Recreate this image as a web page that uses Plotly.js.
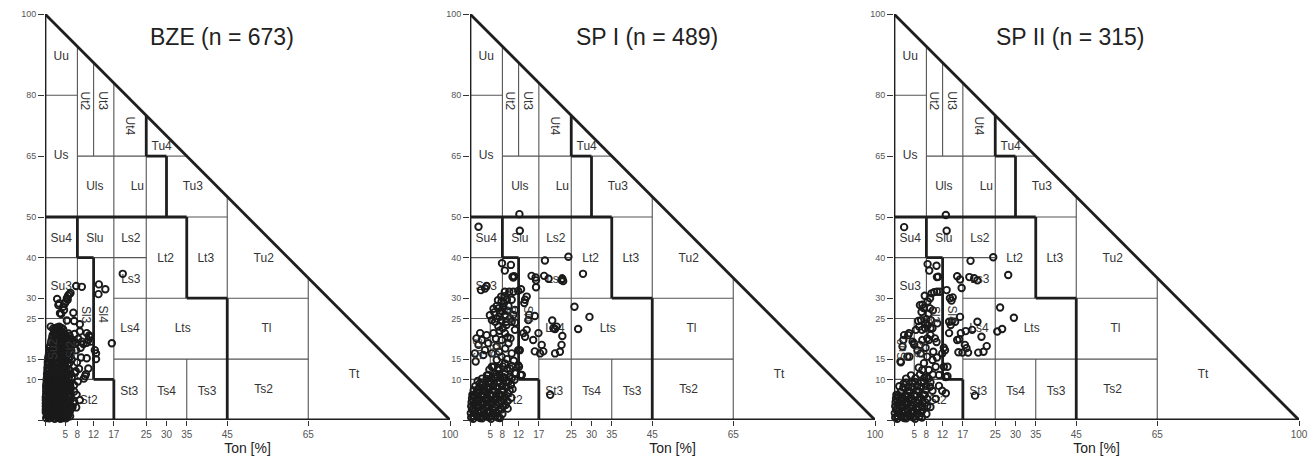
<!DOCTYPE html>
<html><head><meta charset="utf-8">
<script src="https://cdn.plot.ly/plotly-3.0.1.min.js"></script>
<style>html,body{margin:0;padding:0;background:#fff}#chart{width:1315px;height:459px}</style>
</head><body><div id="chart"></div>
<script>
// ---------- data ----------
const panelTitles = ['BZE (n = 673)', 'SP I (n = 489)', 'SP II (n = 315)'];
const xTickVals = [0, 5, 8, 12, 17, 25, 30, 35, 45, 65, 100];
const xTickText = ['', '5', '8', '12', '17', '25', '30', '35', '45', '65', '100'];
const yTickVals = [0, 10, 15, 25, 30, 40, 50, 65, 80, 100];
const yTickText = ['', '10', '15', '25', '30', '40', '50', '65', '80', '100'];

// soil texture classes (KA5): label, Ton, Schluff, rotation
const classNames   = ['Uu','Us','Ut2','Ut3','Ut4','Tu4','Uls','Lu','Tu3','Su4','Slu','Ls2','Lt2','Lt3','Tu2','Ls3','Su3','Sl3','Sl4','Ls4','Lts','Tl','Su2','Sl2','Ss','St2','St3','Ts4','Ts3','Ts2','Tt'];
const classTon     = [4, 4, 9.8, 14.3, 21, 28.8, 12.3, 22.8, 36.5, 4, 12.3, 21.2, 29.8, 39.7, 54, 21.2, 4, 10, 14.3, 21, 34, 54.7, 2.0, 6.5, 2.5, 10.8, 20.8, 30, 40, 54, 76.3];
const classSchluff = [89.5, 65, 78.5, 78.5, 72.5, 67.2, 57.5, 57.5, 57.5, 44.5, 44.5, 44.5, 39.7, 39.7, 39.7, 34.6, 32.8, 26, 26, 22.4, 22.4, 22.4, 17.5, 17.5, 5, 4.6, 7, 7, 6.8, 7.3, 11];
const classAngle   = [0, 0, 90, 90, 90, 0, 0, 0, 0, 0, 0, 0, 0, 0, 0, 0, 0, 90, 90, 0, 0, 0, -90, -90, 0, 0, 0, 0, 0, 0, 0];

// class boundaries [Ton1, Schluff1, Ton2, Schluff2]
const thinBounds = [
  [0,80,8,80],[8,50,8,92],[12,65,12,88],[17,50,17,83],[8,65,25,65],[30,65,35,65],
  [25,0,25,65],[35,50,45,50],[45,30,45,55],[17,10,17,50],[12,40,25,40],[0,40,8,40],
  [17,30,35,30],[45,30,65,30],[17,15,65,15],[65,0,65,35],[35,0,35,15],[8,10,8,40],
  [0,25,8,25],[5,10,5,25],[0,10,12,10],[5,0,5,10]
];
const thickBounds = [
  [0,0,0,100],[0,0,100,0],[0,100,100,0],
  [25,65,25,75],[25,65,30,65],[30,50,30,65],[0,50,35,50],[35,30,35,50],[35,30,45,30],
  [45,0,45,30],[8,40,8,50],[8,40,12,40],[12,10,12,40],[12,10,17,10],[17,0,17,10]
];

// samples [Ton %, Schluff %]
const bzePoints = [
  [19.2,36.0],[13.3,33.4],[14.9,32.2],[13.2,31.0],[7.7,33.0],[9.1,32.8],
  [3.0,29.8],[3.5,28.7],[5.1,29.1],[5.4,30.0],[5.7,30.6],[6.0,31.0],[6.3,31.3],[5.6,29.6],
  [3.3,28.3],[4.5,27.9],[4.9,28.7],[4.7,27.1],[4.0,26.1],[7.0,26.4],[3.7,26.3],[5.4,24.5],[7.2,24.4],
  [8.6,23.6],[1.4,23.0],[8.6,21.8],[10.3,21.4],[10.9,20.8],[11.1,20.5],[10.7,19.7],[16.5,18.9],
  [9.5,18.7],[9.1,19.3],[10.3,19.0],[11.3,19.3],[7.7,17.2],[12.3,17.2],[12.6,16.4],[12.6,15.0],
  [8.9,15.4],[10.3,15.2],[10.7,12.7],[10.1,11.3],[9.9,10.8],[9.6,10.2],[6.6,10.5],[7.2,8.6],
  [7.2,7.0],[7.8,6.2],[8.6,4.9],[7.0,4.1],[7.2,4.5],[7.7,3.1],[6.8,3.2],[6.6,3.0],[6.2,9.0],[6.3,8.1],[5.9,5.7],
  [7.3,21.2],[8.2,20.0],[7.6,19.0],[8.8,17.8],[7.9,14.2],[8.4,12.6],[7.4,11.6],[8.1,9.5],[7.6,12.0],
  [2.0,22.5],[2.5,22.6],[3.0,22.8],[3.5,23.0],[4.0,22.7],
  [2.2,21.5],[2.8,21.8],[3.4,21.2],[4.3,21.5],[5.0,21.0],[5.8,21.3],
  [1.8,20.3],[2.6,20.6],[3.2,20.1],[4.0,20.4],[4.8,19.9],[5.5,20.2],[6.3,19.8],[7.0,19.5],
  [1.5,19.0],[2.3,19.2],[3.0,18.7],[3.8,18.9],[4.5,18.5],[5.3,18.8],[6.0,18.3],[6.8,18.6],
  [1.2,17.8],[2.0,17.6],[2.7,17.9],[3.5,17.4],[4.2,17.7],[5.0,17.2],[5.8,17.5],[6.5,17.0],
  [1.0,16.5],[1.8,16.2],[2.5,16.6],[3.3,16.0],[4.0,16.3],[4.8,15.8],[5.5,16.1],[6.2,15.5],
  [0.8,15.2],[1.5,14.8],[2.2,15.0],[3.0,14.6],[3.8,14.9],[4.5,14.3],[5.3,14.7],[6.0,14.0],
  [0.7,13.6],[1.4,13.2],[2.1,13.5],[2.8,13.0],[3.6,13.3],[4.3,12.8],[5.0,13.1],[5.8,12.5],
  [0.6,12.0],[1.3,11.7],[2.0,12.1],[2.7,11.5],[3.4,11.9],[4.1,11.3],[4.8,11.6],[5.5,11.0],[6.3,11.4],
  [0.5,10.5],[1.2,10.2],[1.9,10.6],[2.6,10.0],[3.3,10.4],[4.0,9.8],[4.7,10.2],[5.4,9.6],
  [0.4,9.2],[1.1,8.8],[1.8,9.1],[2.5,8.6],[3.2,8.9],[3.9,8.4],[4.6,8.7],[5.3,8.1],[6.0,8.5],
  [0.3,7.8],[1.0,7.4],[1.7,7.7],[2.4,7.2],[3.1,7.5],[3.8,7.0],[4.5,7.3],[5.2,6.8],[5.9,7.1],
  [0.3,6.3],[1.0,6.0],[1.7,6.4],[2.4,5.8],[3.1,6.1],[3.8,5.6],[4.5,5.9],[5.2,5.4],[6.0,5.7],
  [0.2,4.9],[0.9,4.5],[1.6,4.8],[2.3,4.3],[3.0,4.6],[3.7,4.1],[4.4,4.4],[5.1,3.9],[5.8,4.2],
  [0.2,3.4],[0.9,3.0],[1.6,3.3],[2.3,2.8],[3.0,3.1],[3.7,2.6],[4.4,2.9],[5.1,2.4],[5.8,2.7],
  [0.2,1.9],[0.9,1.5],[1.6,1.8],[2.3,1.3],[3.0,1.6],[3.7,1.1],[4.4,1.4],[5.1,1.0],[5.8,1.3],
  [0.3,0.5],[1.0,0.4],[1.7,0.7],[2.4,0.3],[3.1,0.6],[3.8,0.3],[4.5,0.5],[5.2,0.4],
  [2.3,22.0],[2.9,22.2],[3.7,22.1],[4.5,22.3],
  [1.9,20.9],[2.5,21.1],[3.0,20.8],[3.8,21.0],[4.6,20.8],[5.3,20.6],[6.1,20.7],
  [1.6,19.6],[2.3,19.8],[2.9,19.5],[3.6,19.7],[4.3,19.3],[5.1,19.5],[5.8,19.2],[6.6,19.1],
  [1.3,18.3],[2.0,18.4],[2.7,18.2],[3.4,18.1],[4.1,18.3],[4.9,18.0],[5.6,18.1],[6.4,17.8],
  [1.1,17.0],[1.6,16.9],[2.3,17.1],[3.0,16.8],[3.8,17.0],[4.5,16.7],[5.3,16.8],[6.0,16.5],
  [0.9,15.8],[1.4,15.6],[2.0,15.7],[2.8,15.4],[3.6,15.6],[4.3,15.2],[5.0,15.4],[5.8,15.0],[6.6,14.9],
  [0.7,14.3],[1.2,14.1],[1.9,14.3],[2.6,13.9],[3.4,14.2],[4.1,13.7],[4.9,14.0],[5.6,13.5],
  [0.6,12.8],[1.1,12.5],[1.8,12.8],[2.4,12.3],[3.1,12.6],[3.9,12.1],[4.6,12.4],[5.3,11.9],[6.1,12.2],
  [0.5,11.3],[1.0,10.9],[1.6,11.2],[2.3,10.8],[3.0,11.1],[3.7,10.6],[4.4,10.9],[5.1,10.4],[5.9,10.6],
  [0.4,9.9],[0.9,9.5],[1.5,9.8],[2.2,9.4],[2.9,9.7],[3.6,9.2],[4.3,9.5],[5.0,9.0],[5.7,9.3],
  [0.3,8.5],[0.8,8.1],[1.4,8.4],[2.1,7.9],[2.8,8.2],[3.5,7.7],[4.2,8.0],[4.9,7.6],[5.6,7.8],[6.3,7.5],
  [0.3,7.0],[0.7,6.7],[1.3,7.0],[2.0,6.5],[2.7,6.8],[3.4,6.3],[4.1,6.6],[4.8,6.1],[5.6,6.4],[6.3,6.2],
  [0.2,5.6],[0.6,5.2],[1.3,5.6],[2.0,5.1],[2.7,5.3],[3.4,4.9],[4.1,5.2],[4.8,4.7],[5.5,5.0],[6.2,4.8],
  [0.2,4.1],[0.6,3.7],[1.2,4.0],[1.9,3.6],[2.6,3.8],[3.3,3.4],[4.0,3.6],[4.7,3.2],[5.4,3.5],[6.1,3.4],
  [0.2,2.6],[0.6,2.3],[1.2,2.6],[1.9,2.1],[2.6,2.3],[3.3,1.9],[4.0,2.2],[4.7,1.8],[5.4,2.0],[6.1,2.0],
  [0.5,1.1],[1.3,1.0],[2.0,0.9],[2.7,1.1],[3.4,0.9],[4.1,0.8],[4.8,0.9],[5.5,0.8],[6.2,0.9]
];

const sp1Points = [
  [12.2,50.7],[2.1,47.6],[12.3,46.6],[24.3,40.2],[18.5,39.3],[27.9,36.0],[7.9,38.6],[10.1,38.2],
  [8.6,36.8],[10.5,35.3],[10.9,35.4],[10.7,35.1],[15.2,35.5],[16.2,35.1],[16.3,34.4],[16.3,32.7],
  [18.3,35.5],[19.4,34.8],[22.6,34.5],[23.0,34.2],[22.8,34.8],[4.1,33.0],[3.7,32.4],[2.7,32.0],
  [8.6,31.6],[9.7,31.6],[10.7,31.6],[11.9,31.8],[12.6,32.2],[7.7,30.4],[8.5,30.5],[9.1,29.6],
  [7.8,29.2],[6.6,28.1],[7.0,27.5],[8.2,27.9],[9.5,28.1],[10.3,29.6],[11.1,27.1],[7.4,26.3],
  [8.6,25.9],[6.6,25.0],[9.9,25.0],[10.7,25.9],[5.4,24.6],[6.2,24.2],[7.8,24.6],[9.0,24.2],[11.1,24.0],
  [13.6,29.6],[14.0,30.4],[13.4,28.8],[16.0,25.6],[14.6,25.9],[20.3,24.5],[25.8,27.9],[29.5,25.4],
  [14.4,24.6],[20.6,22.6],[21.4,23.0],[21.0,22.4],[26.7,22.4],[22.8,20.7],[13.6,20.5],[14.0,22.2],
  [13.2,21.4],[15.6,19.7],[16.9,21.4],[17.7,18.5],[18.1,16.9],[17.3,16.4],[16.0,16.9],[21.0,16.4],
  [22.2,16.8],[22.6,18.5],[12.3,17.2],[12.1,13.1],[12.8,11.1],[19.8,6.2],
  [2.5,21.4],[1.6,20.1],[2.1,18.5],[1.2,16.4],[1.4,14.4],[3.3,16.0],[3.7,17.2],[2.9,19.7],[4.1,20.9],
  [4.5,18.9],[5.4,16.4],[6.6,18.1],[7.8,19.7],[8.6,21.4],[9.0,23.4],[7.0,23.0],[5.8,21.4],[10.3,24.2],
  [11.1,22.2],[9.5,18.9],[10.3,16.4],[7.8,15.6],[6.6,14.8],[8.6,13.9],[9.9,12.7],[7.0,12.3],[5.4,13.1],
  [11.1,11.5],[11.9,17.2],[11.9,13.5],[12.5,11.1],[10.3,10.2],[8.2,10.6],[6.2,10.6],[4.5,11.1],
  [7.3,22.0],[8.1,22.6],[6.4,20.0],[9.3,20.4],[10.0,20.1],[8.7,17.6],[7.2,16.8],[9.1,15.0],[10.8,14.6],
  [6.0,26.5],[7.3,25.4],[8.0,26.8],[9.2,26.9],[8.4,28.8],[6.9,29.5],[5.8,27.4],[4.9,25.8],
  [0.3,0.6],[1.4,1.5],[2.5,0.5],[3.6,1.4],[4.7,0.7],[5.8,1.6],[6.9,0.6],[8.0,1.5],
  [0.5,2.6],[1.6,3.3],[2.7,2.4],[3.8,3.1],[4.9,2.3],[6.0,3.2],[7.1,2.5],[8.2,3.4],[9.3,2.8],
  [0.4,4.4],[1.5,5.0],[2.6,4.2],[3.7,5.1],[4.8,4.3],[5.9,5.0],[7.0,4.4],[8.1,5.2],[9.2,4.6],[10.2,5.5],
  [0.6,6.2],[1.7,6.9],[2.8,6.1],[3.9,7.0],[5.0,6.2],[6.1,7.1],[7.2,6.3],[8.3,7.2],[9.4,6.5],[10.5,7.6],
  [1.3,8.3],[2.4,9.0],[3.5,8.2],[4.6,9.1],[5.7,8.3],[6.8,9.2],[7.9,8.4],[9.0,9.3],[10.1,8.6],[11.0,9.9],
  [3.0,10.2],[4.2,11.0],[5.3,10.3],[6.4,11.2],[7.5,10.4],[8.6,11.3],[9.7,10.6],
  [4.8,12.4],[5.9,13.1],[7.0,12.8],[8.1,13.2],[9.2,12.6],[10.3,13.3],[11.3,11.5],
  [0.9,1.0],[2.0,2.0],[3.1,0.9],[4.2,2.0],[5.3,1.0],[1.0,3.8],[2.1,3.6],[3.2,3.9],[4.3,3.6],[5.4,3.8],
  [1.1,5.6],[2.2,5.4],[3.3,5.8],[4.4,5.5],[6.5,5.8],[7.6,5.7],[2.0,7.6],[3.2,7.6],[4.4,7.8],[5.6,7.5],
  [0.8,0.3],[1.9,0.8],[3.0,0.4],[4.1,0.9],[5.2,0.3],[6.3,0.9],[7.4,0.5],
  [0.2,1.7],[1.2,2.3],[2.3,1.6],[3.4,2.4],[4.5,1.6],[5.6,2.5],[6.7,1.7],[7.7,2.6],
  [0.3,3.4],[1.3,4.2],[2.4,3.3],[3.5,4.1],[4.6,3.3],[5.7,4.2],[6.8,3.5],[7.8,4.3],[8.8,3.7],
  [0.5,5.3],[1.1,6.1],[2.2,5.2],[3.3,6.0],[4.4,5.2],[5.5,6.0],[6.6,5.4],[7.6,6.2],[8.7,5.6],
  [0.9,7.3],[2.3,8.0],[3.4,7.2],[4.5,8.1],[5.6,7.3],[6.7,8.1],[7.8,7.4],[8.9,8.2],[9.8,7.3],
  [1.9,9.6],[3.0,9.2],[4.1,10.1],[5.2,9.4],[6.3,10.2],[7.4,9.5],[8.5,10.2],[9.6,9.5]
];

const sp2Points = [
  [12.8,50.5],[2.5,47.5],[13.0,46.6],[24.5,40.1],[18.9,39.2],[28.2,35.7],[8.3,38.4],[10.5,38.0],
  [8.7,36.8],[10.6,35.2],[10.9,35.3],[15.6,35.4],[16.3,34.6],[16.7,32.5],[18.6,35.2],[19.8,34.9],
  [20.6,34.4],[13.0,32.0],[9.3,31.2],[9.9,31.5],[10.6,31.6],[11.3,31.6],[8.9,30.0],[13.8,30.0],
  [14.5,30.2],[14.2,29.4],[6.4,28.3],[7.0,28.4],[7.3,27.6],[8.9,27.5],[26.2,27.7],[29.6,25.2],
  [6.0,24.4],[6.7,24.6],[8.0,24.8],[9.1,24.6],[16.3,25.4],[15.1,24.2],[14.3,24.3],[20.6,24.2],
  [17.7,21.9],[25.5,21.8],[21.6,20.5],[19.3,22.2],[16.1,19.9],[17.5,18.5],[17.9,17.7],[18.3,16.6],
  [15.9,16.7],[16.9,16.6],[20.8,16.6],[22.1,16.8],[22.9,18.2],[12.6,17.2],[12.3,13.1],[13.2,10.8],
  [12.8,6.6],[20.0,6.0],[1.7,14.2],[3.8,15.6],[2.3,19.7],[3.5,20.9],[4.6,19.3],[5.0,18.5],[6.4,18.5],
  [8.2,20.1],[10.1,20.1],[10.5,19.2],[7.7,22.6],[8.3,23.3],[9.0,22.6],[6.9,22.2],
  [2.5,20.9],[3.7,21.4],[1.6,14.4],[3.3,15.6],[2.1,18.1],[4.9,18.9],[5.8,17.2],[7.0,19.7],[6.6,16.4],
  [7.8,17.8],[8.6,19.7],[8.2,15.6],[9.5,14.8],[7.4,14.0],[7.0,12.3],[8.6,12.3],[10.3,13.1],[11.1,11.1],
  [12.8,10.6],[13.2,13.1],[11.9,16.4],[12.3,17.8],[6.2,23.0],[7.8,23.8],[9.5,22.6],[10.7,23.8],[5.4,22.2],
  [9.0,20.9],[13.6,21.4],[14.0,23.4],[13.6,24.2],[15.6,19.7],[16.5,21.4],[26.7,22.4],[8.5,26.2],[9.6,27.0],
  [7.6,30.6],[8.3,29.2],[6.8,26.6],[9.7,16.8],[10.6,15.4],[6.1,12.9],[9.6,11.2],[8.1,10.6],
  [0.3,0.6],[1.4,1.5],[2.5,0.5],[3.6,1.4],[4.7,0.7],[5.8,1.6],[6.9,0.6],[8.0,1.5],
  [0.5,2.6],[1.6,3.3],[2.7,2.4],[3.8,3.1],[4.9,2.3],[6.0,3.2],[7.1,2.5],[8.2,3.4],
  [0.4,4.4],[1.5,5.0],[2.6,4.2],[3.7,5.1],[4.8,4.3],[5.9,5.0],[7.0,4.4],[8.2,5.2],[10.3,5.2],
  [0.6,6.2],[1.7,6.9],[2.8,6.1],[3.9,7.0],[5.0,6.2],[6.1,7.1],[7.2,6.3],[9.5,7.2],[11.9,7.2],
  [1.3,8.3],[2.4,9.0],[3.5,8.2],[4.6,9.1],[5.7,8.3],[6.8,9.2],[7.9,8.4],[9.0,9.3],[11.1,8.4],
  [3.0,10.2],[4.2,11.0],[5.3,10.3],[6.4,11.2],[7.5,10.4],[9.0,3.2],[7.0,3.2],
  [0.9,1.0],[2.0,2.0],[3.1,0.9],[4.2,2.0],[1.0,3.8],[2.1,3.6],[3.2,3.9],[4.3,3.6],[1.1,5.6],[2.2,5.4],[3.3,5.8],
  [0.8,0.3],[1.9,0.8],[3.0,0.4],[4.1,0.9],[5.2,0.3],[6.3,0.9],
  [0.2,1.7],[1.2,2.3],[2.3,1.6],[3.4,2.4],[4.5,1.6],[5.6,2.5],[6.7,1.7],
  [0.3,3.4],[1.3,4.2],[2.4,3.3],[3.5,4.1],[4.6,3.3],[5.7,4.2],[6.8,3.5],[7.8,4.3],
  [0.5,5.3],[1.1,6.1],[2.2,5.2],[3.3,6.0],[4.4,5.2],[5.5,6.0],[6.6,5.4],[7.6,6.2],
  [2.3,8.0],[3.4,7.2],[4.5,8.1],[5.6,7.3],[6.7,8.1],[7.8,7.4],[8.9,8.2],
  [3.0,9.2],[5.2,9.4],[7.4,9.5],[8.5,10.2]
];

const panelPoints = [bzePoints, sp1Points, sp2Points];

// ---------- build ----------
const W = 1315, H = 459;
const xDomains = [[45/W, 450/W], [470/W, 875/W], [894/W, 1299/W]];
const yDomain = [39/H, 445/H];
const FONT = 'Liberation Sans, Arial, Helvetica, sans-serif';

function segXY(list) {
  const xs = [], ys = [];
  list.forEach(s => { xs.push(s[0], s[2], null); ys.push(s[1], s[3], null); });
  return {xs, ys};
}
const thin = segXY(thinBounds), thick = segXY(thickBounds);
const flatIdx = classAngle.map((a, i) => a === 0 ? i : -1).filter(i => i >= 0);
const rotIdx = classAngle.map((a, i) => a !== 0 ? i : -1).filter(i => i >= 0);

const traces = [], annotations = [];
const layout = {
  width: W, height: H, margin: {l: 0, r: 0, t: 0, b: 0},
  paper_bgcolor: '#fff', plot_bgcolor: 'rgba(0,0,0,0)', showlegend: false,
  font: {family: FONT, color: '#222'}
};

for (let p = 0; p < 3; p++) {
  const sfx = p === 0 ? '' : String(p + 1);
  const xa = 'x' + sfx, ya = 'y' + sfx;
  traces.push({type: 'scatter', mode: 'lines', x: thin.xs, y: thin.ys, xaxis: xa, yaxis: ya,
    line: {color: '#555', width: 1.1}, hoverinfo: 'skip', cliponaxis: false, connectgaps: false});
  traces.push({type: 'scatter', mode: 'lines', x: thick.xs, y: thick.ys, xaxis: xa, yaxis: ya,
    line: {color: '#1e1e1e', width: 2.8}, hoverinfo: 'skip', cliponaxis: false, connectgaps: false});
  traces.push({type: 'scatter', mode: 'text', xaxis: xa, yaxis: ya,
    x: flatIdx.map(i => classTon[i]), y: flatIdx.map(i => classSchluff[i]),
    text: flatIdx.map(i => classNames[i]), textposition: 'middle center',
    textfont: {family: FONT, size: 12, color: '#333'}, hoverinfo: 'skip', cliponaxis: false});
  traces.push({type: 'scatter', mode: 'markers', xaxis: xa, yaxis: ya,
    x: panelPoints[p].map(d => d[0]), y: panelPoints[p].map(d => d[1]),
    marker: {symbol: 'circle-open', size: 6.5, color: '#1a1a1a', line: {width: 1.9}},
    cliponaxis: false, hoverinfo: 'x+y'});

  layout['xaxis' + sfx] = {
    domain: xDomains[p], range: [0, 100], anchor: ya,
    tickmode: 'array', tickvals: xTickVals, ticktext: xTickText,
    ticks: 'outside', ticklen: 5, tickwidth: 1, tickcolor: '#333',
    tickfont: {family: FONT, size: 10, color: '#555'},
    showgrid: false, zeroline: false, showline: false, fixedrange: true,
    title: {text: 'Ton [%]', font: {family: FONT, size: 14, color: '#222'}, standoff: 2}
  };
  layout['yaxis' + sfx] = {
    domain: yDomain, range: [0, 100], anchor: xa,
    tickmode: 'array', tickvals: yTickVals, ticktext: yTickText,
    ticks: 'outside', ticklen: 6, tickwidth: 1, tickcolor: '#333',
    tickfont: {family: FONT, size: 9, color: '#555'},
    showgrid: false, zeroline: false, showline: false, fixedrange: true,
    title: {text: ''}
  };
  // y-axis title placed beside the tick labels
  annotations.push({
    xref: xa, yref: ya, x: -7.8, y: 50, text: 'Schluff [%]', textangle: -90, showarrow: false,
    xanchor: 'center', yanchor: 'middle', font: {family: FONT, size: 15, color: '#222'}
  });
  rotIdx.forEach(i => annotations.push({
    xref: xa, yref: ya, x: classTon[i], y: classSchluff[i], text: classNames[i],
    textangle: classAngle[i], showarrow: false, xanchor: 'center', yanchor: 'middle',
    font: {family: FONT, size: 12, color: '#333'}
  }));
  annotations.push({
    xref: xa, yref: ya, x: 43.7, y: 94.3, text: panelTitles[p], showarrow: false,
    xanchor: 'center', yanchor: 'middle', font: {family: FONT, size: 23, color: '#222'}
  });
}
layout.annotations = annotations;

Plotly.newPlot('chart', traces, layout, {staticPlot: true, displayModeBar: false});
</script>
</body></html>
